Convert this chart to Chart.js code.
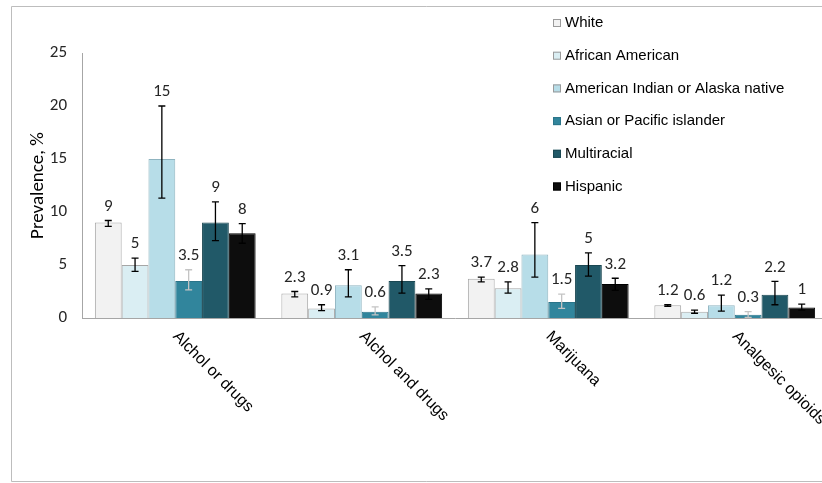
<!DOCTYPE html>
<html>
<head>
<meta charset="utf-8">
<script src="https://cdn.jsdelivr.net/npm/chart.js@4.4.1/dist/chart.umd.min.js"></script>
<style>
  html, body { margin: 0; padding: 0; background: #ffffff; overflow: hidden; }
  #wrap { position: relative; width: 822px; height: 483px; overflow: hidden; }
  canvas { display: block; }
</style>
</head>
<body>
<div id="wrap"><canvas id="c" width="840" height="483"></canvas></div>
<script>
// ---- data ----
const categories = ['Alchol or drugs', 'Alchol and drugs', 'Marijuana', 'Analgesic opioids'];
const seriesNames = ['White', 'African American', 'American Indian or Alaska native', 'Asian or Pacific islander', 'Multiracial', 'Hispanic'];

const whiteVals = [9, 2.3, 3.7, 1.2];
const whiteLow  = [8.65, 2.0, 3.4, 1.1];
const whiteHigh = [9.2, 2.5, 3.85, 1.25];

const africanVals = [5, 0.9, 2.8, 0.6];
const africanLow  = [4.4, 0.7, 2.35, 0.45];
const africanHigh = [5.65, 1.25, 3.4, 0.75];

const indianVals = [15, 3.1, 6, 1.2];
const indianLow  = [11.3, 2.0, 3.85, 0.65];
const indianHigh = [20, 4.55, 9.0, 2.15];

const asianVals = [3.5, 0.6, 1.5, 0.3];
const asianLow  = [2.65, 0.3, 0.9, 0.05];
const asianHigh = [4.55, 1.05, 2.25, 0.6];

const multiVals = [9, 3.5, 5, 2.2];
const multiLow  = [7.3, 2.35, 3.95, 1.25];
const multiHigh = [10.95, 4.95, 6.15, 3.45];

const hispanicVals = [8, 2.3, 3.2, 1];
const hispanicLow  = [7.05, 1.75, 2.6, 0.75];
const hispanicHigh = [8.9, 2.75, 3.75, 1.3];

const yTicks = [0, 5, 10, 15, 20, 25];

// ---- styles ----
const fills   = ['#f2f2f2', '#daeef3', '#b7dde8', '#31859c', '#215968', '#0d0d0d'];
const borders = ['#a6a6a6', '#a6a6a6', '#8fb4c0', '#2a7489', '#1a4752', '#000000'];
const errColors = ['#000000', '#000000', '#000000', '#c4c4c4', '#000000', '#000000'];

const allVals = [whiteVals, africanVals, indianVals, asianVals, multiVals, hispanicVals];
const allLow  = [whiteLow, africanLow, indianLow, asianLow, multiLow, hispanicLow];
const allHigh = [whiteHigh, africanHigh, indianHigh, asianHigh, multiHigh, hispanicHigh];

const numFont = 'Carlito, Lato, sans-serif';
const arialFont = '"Liberation Sans", Arial, sans-serif';

const datasets = seriesNames.map((name, i) => ({
  label: name,
  data: allVals[i],
  low: allLow[i],
  high: allHigh[i],
  backgroundColor: fills[i],
  borderColor: borders[i],
  borderWidth: 1,
  errColor: errColors[i],
  categoryPercentage: 0.862,
  barPercentage: 1.0
}));

const extras = {
  id: 'extras',
  beforeDraw(chart) {
    const ctx = chart.ctx;
    ctx.save();
    ctx.strokeStyle = '#bdbdbd';
    ctx.lineWidth = 1;
    ctx.beginPath();
    ctx.moveTo(900, 6.5); ctx.lineTo(11.5, 6.5); ctx.lineTo(11.5, 481.5); ctx.lineTo(900, 481.5);
    ctx.stroke();
    ctx.restore();
  },
  afterDatasetsDraw(chart) {
    const ctx = chart.ctx;
    const y = chart.scales.y;
    ctx.save();
    chart.data.datasets.forEach((ds, di) => {
      const meta = chart.getDatasetMeta(di);
      meta.data.forEach((bar, j) => {
        const x = bar.x;
        const yl = y.getPixelForValue(ds.low[j]);
        const yh = y.getPixelForValue(ds.high[j]);
        ctx.strokeStyle = ds.errColor;
        ctx.lineWidth = 1.3;
        ctx.beginPath();
        ctx.moveTo(x, yl); ctx.lineTo(x, yh);
        ctx.moveTo(x - 3.5, yl); ctx.lineTo(x + 3.5, yl);
        ctx.moveTo(x - 3.5, yh); ctx.lineTo(x + 3.5, yh);
        ctx.stroke();
        // value label
        ctx.fillStyle = '#262626';
        ctx.font = '17px ' + numFont;
        ctx.textAlign = 'center';
        ctx.textBaseline = 'middle';
        ctx.fillText(String(ds.data[j]), x, yh - 14);
      });
    });
    ctx.restore();
  },
  afterDraw(chart) {
    const ctx = chart.ctx;
    const xs = chart.scales.x;
    const area = chart.chartArea;
    ctx.save();
    // x category labels rotated 45deg
    ctx.fillStyle = '#000000';
    ctx.font = '16px ' + arialFont;
    ctx.textAlign = 'left';
    ctx.textBaseline = 'middle';
    chart.data.labels.forEach((lab, i) => {
      const px = xs.getPixelForTick(i);
      ctx.save();
      ctx.translate(px, area.bottom + 16);
      ctx.rotate(Math.PI / 4);
      ctx.fillText(lab, 0, 0);
      ctx.restore();
    });
    // y-axis title
    ctx.save();
    ctx.translate(38, (area.top + area.bottom) / 2);
    ctx.rotate(-Math.PI / 2);
    ctx.font = '19px ' + numFont;
    ctx.textAlign = 'center';
    ctx.textBaseline = 'middle';
    ctx.fillStyle = '#000000';
    ctx.fillText('Prevalence, %', 0, 0);
    ctx.restore();
    // legend
    ctx.font = '15px ' + arialFont;
    ctx.textAlign = 'left';
    ctx.textBaseline = 'middle';
    chart.data.datasets.forEach((ds, i) => {
      const ly = 23 + i * 32.7;
      ctx.fillStyle = ds.backgroundColor;
      ctx.fillRect(553, ly - 4, 8, 8);
      ctx.strokeStyle = i < 3 ? '#9a9a9a' : ds.borderColor;
      ctx.lineWidth = 1;
      ctx.strokeRect(553.5, ly - 3.5, 7, 7);
      ctx.fillStyle = '#000000';
      ctx.fillText(ds.label, 565, ly);
    });
    ctx.restore();
  }
};

new Chart(document.getElementById('c'), {
  type: 'bar',
  data: { labels: categories, datasets: datasets },
  options: {
    responsive: false,
    animation: false,
    layout: { padding: { top: 53, right: 12, left: 0, bottom: 0 } },
    plugins: { legend: { display: false }, tooltip: { enabled: false } },
    scales: {
      x: {
        grid: { display: false, drawTicks: false },
        border: { display: true, color: '#a6a6a6' },
        ticks: { display: false },
        afterFit(s) { s.height = 165; }
      },
      y: {
        min: 0, max: 25,
        afterBuildTicks(s) { s.ticks = yTicks.map(v => ({ value: v })); },
        grid: { display: false, drawTicks: false },
        border: { display: true, color: '#a6a6a6' },
        ticks: { padding: 15, color: '#262626', font: { family: numFont, size: 17 } },
        afterFit(s) { s.width = 82; }
      }
    }
  },
  plugins: [extras]
});
</script>
</body>
</html>
